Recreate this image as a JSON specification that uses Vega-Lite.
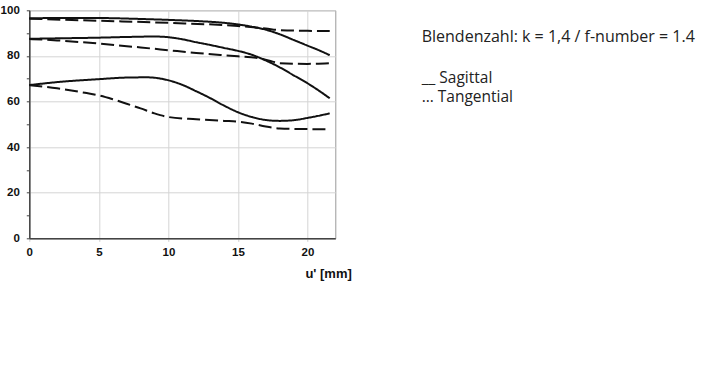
{
  "$schema": "https://vega.github.io/schema/vega-lite/v6.json",
  "autosize": "none",
  "width": 306,
  "height": 228,
  "padding": {"left": 29.3, "top": 10.3, "right": 384.7, "bottom": 140.7},
  "background": "white",
  "title": {
    "text": "Blendenzahl: k = 1,4 / f-number = 1.4",
    "subtitle": ["__ Sagittal", "… Tangential"],
    "anchor": "start",
    "frame": "group",
    "orient": "top",
    "dx": 392.4,
    "dy": 101,
    "offset": 0,
    "font": "Open Sans",
    "fontSize": 16,
    "fontWeight": "normal",
    "color": "#222",
    "subtitleFont": "Open Sans",
    "subtitleFontSize": 15.5,
    "subtitleColor": "#222",
    "subtitleLineHeight": 19.2,
    "subtitlePadding": 25.4
  },
  "config": {
    "view": {"stroke": "#999", "strokeWidth": 1},
    "axis": {
      "labelFont": "Liberation Sans",
      "labelFontWeight": "bold",
      "labelFontSize": 11.5,
      "labelColor": "#111",
      "titleFont": "Liberation Sans",
      "titleFontWeight": "bold",
      "titleFontSize": 13,
      "titleColor": "#111",
      "gridColor": "#d4d4d4",
      "gridWidth": 1,
      "domainColor": "#444",
      "domainWidth": 1.5
    }
  },
  "data": {
    "values": [
      {"u": 0, "mtf": 96.5, "curve": "S1", "type": "Sagittal"},
      {"u": 2, "mtf": 96.6, "curve": "S1", "type": "Sagittal"},
      {"u": 5, "mtf": 96.6, "curve": "S1", "type": "Sagittal"},
      {"u": 8, "mtf": 96.2, "curve": "S1", "type": "Sagittal"},
      {"u": 10, "mtf": 95.8, "curve": "S1", "type": "Sagittal"},
      {"u": 12, "mtf": 95.3, "curve": "S1", "type": "Sagittal"},
      {"u": 14, "mtf": 94.5, "curve": "S1", "type": "Sagittal"},
      {"u": 15, "mtf": 93.8, "curve": "S1", "type": "Sagittal"},
      {"u": 16, "mtf": 92.8, "curve": "S1", "type": "Sagittal"},
      {"u": 17, "mtf": 91.5, "curve": "S1", "type": "Sagittal"},
      {"u": 18, "mtf": 89.5, "curve": "S1", "type": "Sagittal"},
      {"u": 19, "mtf": 87.0, "curve": "S1", "type": "Sagittal"},
      {"u": 20, "mtf": 84.5, "curve": "S1", "type": "Sagittal"},
      {"u": 21, "mtf": 82.0, "curve": "S1", "type": "Sagittal"},
      {"u": 21.6, "mtf": 80.3, "curve": "S1", "type": "Sagittal"},

      {"u": 0, "mtf": 96.3, "curve": "T1", "type": "Tangential"},
      {"u": 5, "mtf": 95.4, "curve": "T1", "type": "Tangential"},
      {"u": 10, "mtf": 94.5, "curve": "T1", "type": "Tangential"},
      {"u": 15, "mtf": 93.1, "curve": "T1", "type": "Tangential"},
      {"u": 17, "mtf": 92.0, "curve": "T1", "type": "Tangential"},
      {"u": 18, "mtf": 91.3, "curve": "T1", "type": "Tangential"},
      {"u": 20, "mtf": 91.0, "curve": "T1", "type": "Tangential"},
      {"u": 21.6, "mtf": 90.9, "curve": "T1", "type": "Tangential"},

      {"u": 0, "mtf": 87.5, "curve": "S2", "type": "Sagittal"},
      {"u": 2, "mtf": 87.7, "curve": "S2", "type": "Sagittal"},
      {"u": 5, "mtf": 88.0, "curve": "S2", "type": "Sagittal"},
      {"u": 7, "mtf": 88.3, "curve": "S2", "type": "Sagittal"},
      {"u": 9, "mtf": 88.5, "curve": "S2", "type": "Sagittal"},
      {"u": 10, "mtf": 88.2, "curve": "S2", "type": "Sagittal"},
      {"u": 11, "mtf": 87.3, "curve": "S2", "type": "Sagittal"},
      {"u": 12, "mtf": 86.0, "curve": "S2", "type": "Sagittal"},
      {"u": 13, "mtf": 84.8, "curve": "S2", "type": "Sagittal"},
      {"u": 14, "mtf": 83.5, "curve": "S2", "type": "Sagittal"},
      {"u": 15, "mtf": 82.2, "curve": "S2", "type": "Sagittal"},
      {"u": 16, "mtf": 80.5, "curve": "S2", "type": "Sagittal"},
      {"u": 17, "mtf": 78.0, "curve": "S2", "type": "Sagittal"},
      {"u": 18, "mtf": 75.0, "curve": "S2", "type": "Sagittal"},
      {"u": 19, "mtf": 71.5, "curve": "S2", "type": "Sagittal"},
      {"u": 20, "mtf": 68.0, "curve": "S2", "type": "Sagittal"},
      {"u": 21, "mtf": 64.0, "curve": "S2", "type": "Sagittal"},
      {"u": 21.6, "mtf": 61.4, "curve": "S2", "type": "Sagittal"},

      {"u": 0, "mtf": 87.4, "curve": "T2", "type": "Tangential"},
      {"u": 2, "mtf": 86.8, "curve": "T2", "type": "Tangential"},
      {"u": 5, "mtf": 85.4, "curve": "T2", "type": "Tangential"},
      {"u": 8, "mtf": 83.7, "curve": "T2", "type": "Tangential"},
      {"u": 10, "mtf": 82.5, "curve": "T2", "type": "Tangential"},
      {"u": 12, "mtf": 81.3, "curve": "T2", "type": "Tangential"},
      {"u": 15, "mtf": 79.8, "curve": "T2", "type": "Tangential"},
      {"u": 16.5, "mtf": 79.0, "curve": "T2", "type": "Tangential"},
      {"u": 17.5, "mtf": 77.5, "curve": "T2", "type": "Tangential"},
      {"u": 18, "mtf": 76.8, "curve": "T2", "type": "Tangential"},
      {"u": 20, "mtf": 76.5, "curve": "T2", "type": "Tangential"},
      {"u": 21.6, "mtf": 76.8, "curve": "T2", "type": "Tangential"},

      {"u": 0, "mtf": 67.2, "curve": "S3", "type": "Sagittal"},
      {"u": 2, "mtf": 68.5, "curve": "S3", "type": "Sagittal"},
      {"u": 5, "mtf": 69.8, "curve": "S3", "type": "Sagittal"},
      {"u": 7, "mtf": 70.5, "curve": "S3", "type": "Sagittal"},
      {"u": 8.5, "mtf": 70.6, "curve": "S3", "type": "Sagittal"},
      {"u": 10, "mtf": 69.3, "curve": "S3", "type": "Sagittal"},
      {"u": 11, "mtf": 67.3, "curve": "S3", "type": "Sagittal"},
      {"u": 12, "mtf": 64.5, "curve": "S3", "type": "Sagittal"},
      {"u": 13, "mtf": 61.5, "curve": "S3", "type": "Sagittal"},
      {"u": 14, "mtf": 58.2, "curve": "S3", "type": "Sagittal"},
      {"u": 15, "mtf": 55.3, "curve": "S3", "type": "Sagittal"},
      {"u": 16, "mtf": 53.2, "curve": "S3", "type": "Sagittal"},
      {"u": 17, "mtf": 51.9, "curve": "S3", "type": "Sagittal"},
      {"u": 18, "mtf": 51.5, "curve": "S3", "type": "Sagittal"},
      {"u": 19, "mtf": 51.8, "curve": "S3", "type": "Sagittal"},
      {"u": 20, "mtf": 52.8, "curve": "S3", "type": "Sagittal"},
      {"u": 21, "mtf": 54.0, "curve": "S3", "type": "Sagittal"},
      {"u": 21.6, "mtf": 54.8, "curve": "S3", "type": "Sagittal"},

      {"u": 0, "mtf": 67.2, "curve": "T3", "type": "Tangential"},
      {"u": 2, "mtf": 65.8, "curve": "T3", "type": "Tangential"},
      {"u": 4, "mtf": 63.8, "curve": "T3", "type": "Tangential"},
      {"u": 5, "mtf": 62.7, "curve": "T3", "type": "Tangential"},
      {"u": 6, "mtf": 61.0, "curve": "T3", "type": "Tangential"},
      {"u": 7, "mtf": 59.0, "curve": "T3", "type": "Tangential"},
      {"u": 8, "mtf": 57.0, "curve": "T3", "type": "Tangential"},
      {"u": 9, "mtf": 54.8, "curve": "T3", "type": "Tangential"},
      {"u": 10, "mtf": 53.2, "curve": "T3", "type": "Tangential"},
      {"u": 12, "mtf": 52.2, "curve": "T3", "type": "Tangential"},
      {"u": 14, "mtf": 51.5, "curve": "T3", "type": "Tangential"},
      {"u": 15, "mtf": 51.2, "curve": "T3", "type": "Tangential"},
      {"u": 16, "mtf": 50.3, "curve": "T3", "type": "Tangential"},
      {"u": 17, "mtf": 49.0, "curve": "T3", "type": "Tangential"},
      {"u": 18, "mtf": 48.2, "curve": "T3", "type": "Tangential"},
      {"u": 20, "mtf": 47.9, "curve": "T3", "type": "Tangential"},
      {"u": 21.6, "mtf": 47.8, "curve": "T3", "type": "Tangential"}
    ]
  },
  "mark": {"type": "line", "interpolate": "monotone", "strokeWidth": 2, "color": "#111"},
  "encoding": {
    "x": {
      "field": "u",
      "type": "quantitative",
      "scale": {"domain": [0, 22], "nice": false},
      "axis": {
        "values": [0, 5, 10, 15, 20],
        "title": "u' [mm]",
        "titleAnchor": "end",
        "titleAlign": "right",
        "titleBaseline": "top",
        "titleX": 322,
        "titleY": 29,
        "tickSize": 3,
        "tickColor": "#ccc",
        "labelPadding": 5,
        "labelFlush": false
      }
    },
    "y": {
      "field": "mtf",
      "type": "quantitative",
      "scale": {"domain": [0, 100], "nice": false},
      "axis": {
        "values": [0, 10, 20, 30, 40, 50, 60, 70, 80, 90, 100],
        "labelExpr": "datum.value % 20 === 0 ? datum.label : ''",
        "gridOpacity": {"condition": {"test": "datum.value % 20 === 0", "value": 1}, "value": 0},
        "title": null,
        "tickSize": 3,
        "tickColor": "#444",
        "labelPadding": 7,
        "labelFlush": false
      }
    },
    "detail": {"field": "curve"},
    "strokeDash": {
      "field": "type",
      "type": "nominal",
      "scale": {"domain": ["Sagittal", "Tangential"], "range": [[1, 0], [13, 5]]},
      "legend": null
    }
  }
}
